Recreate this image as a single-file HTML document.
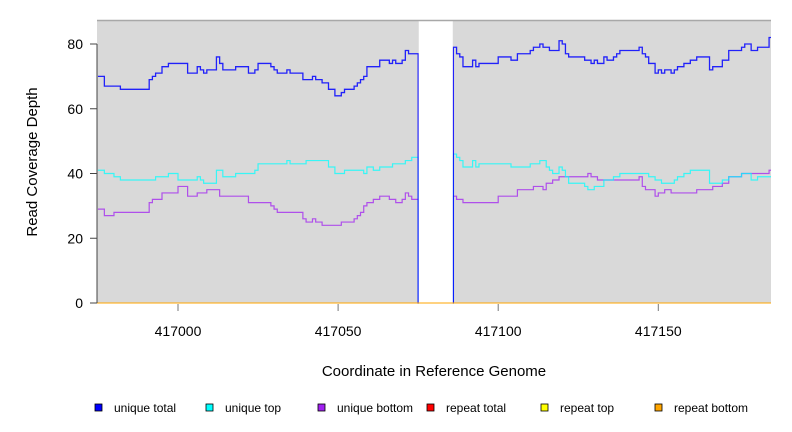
<!DOCTYPE html>
<html><head><meta charset="utf-8"><style>
body{margin:0;background:#fff;}
svg{display:block;font-family:"Liberation Sans",sans-serif;}
</style></head><body>
<svg id="c" width="792" height="432" viewBox="0 0 792 432">
<rect x="97" y="20" width="674" height="283" fill="#d9d9d9"/>
<g id="marks"></g>
<line x1="97" x2="771" y1="20.5" y2="20.5" stroke="#a8a8a8" stroke-width="1.5"/>
<g id="axes"></g>
<text x="434" y="376" text-anchor="middle" font-size="15">Coordinate in Reference Genome</text>
<text x="37" y="162" text-anchor="middle" font-size="15" transform="rotate(-90 37 162)">Read Coverage Depth</text>
<g id="legend"></g>
</svg>
<script>
const xTicks=[417000,417050,417100,417150];
const yTicks=[0,20,40,60,80];
const gapStart=417075, gapEnd=417086;
const blueX=[416975,416977,416982,416991,416992,416993,416995,416997,417003,417006,417007,417008,417009,417012,417013,417014,417018,417022,417024,417025,417029,417030,417031,417034,417035,417039,417042,417043,417045,417047,417049,417051,417052,417055,417056,417057,417058,417059,417063,417066,417067,417068,417070,417071,417072,417075,417086,417087,417088,417089,417092,417093,417094,417100,417104,417106,417110,417111,417113,417114,417116,417119,417120,417121,417122,417127,417129,417130,417131,417133,417134,417136,417137,417138,417144,417145,417146,417147,417149,417150,417151,417152,417154,417155,417156,417158,417160,417162,417166,417167,417170,417172,417176,417177,417179,417181,417184.6];
const blueV=[70,67,66,69,70,71,73,74,71,73,72,71,72,76,74,72,73,71,72,74,73,72,71,72,71,69,70,69,68,66,64,65,66,67,68,69,70,73,75,74,75,74,75,78,77,0,79,77,76,73,75,73,74,76,75,77,78,79,80,79,78,81,80,77,76,75,74,75,74,76,75,76,77,78,79,77,76,74,71,72,71,72,71,72,73,74,75,76,72,73,75,78,79,80,78,79,82];
const cyanX=[416975,416977,416980,416982,416993,416997,417000,417006,417007,417008,417012,417014,417018,417024,417025,417034,417035,417040,417047,417049,417052,417058,417059,417061,417063,417067,417071,417073,417075,417086,417087,417088,417089,417092,417093,417094,417104,417110,417113,417115,417116,417117,417119,417120,417121,417122,417127,417128,417130,417133,417136,417138,417147,417149,417151,417155,417156,417158,417160,417166,417170,417172,417176,417179,417181];
const cyanV=[41,40,39,38,39,40,38,39,38,37,41,39,40,41,43,44,43,44,42,40,41,40,42,41,42,43,44,45,0,46,45,44,42,44,42,43,42,43,44,42,41,40,42,41,39,37,36,35,36,38,39,40,39,38,37,38,39,40,41,37,38,39,40,38,39];
const purpX=[416975,416977,416980,416991,416992,416995,417000,417003,417006,417009,417013,417022,417029,417030,417031,417039,417040,417042,417043,417045,417051,417055,417056,417057,417058,417059,417061,417063,417066,417068,417070,417071,417072,417073,417075,417086,417087,417089,417100,417106,417111,417114,417115,417117,417119,417128,417129,417131,417144,417145,417146,417149,417150,417152,417154,417162,417167,417170,417172,417176,417184.6];
const purpV=[29,27,28,31,32,34,36,33,34,35,33,31,30,29,28,26,25,26,25,24,25,26,27,28,30,31,32,33,32,31,32,34,33,32,0,33,32,31,33,35,36,35,37,38,39,40,39,38,39,36,35,33,34,35,34,35,36,37,39,40,41];
const zeroX=[416974.7,417185.2];
const zeroV=[0,0];
const xMin=416974.7,xMax=417185.2;
const sx=v=>97+(v-xMin)/(xMax-xMin)*674;
const sy=v=>303-v*3.2375;
const NS='http://www.w3.org/2000/svg';
const marks=document.getElementById('marks'),axes=document.getElementById('axes'),leg=document.getElementById('legend');
function mk(t,a,p){const e=document.createElementNS(NS,t);for(const k in a)e.setAttribute(k,a[k]);p.appendChild(e);return e;}
function stepPath(xs,vs){let d='';for(let i=0;i<xs.length;i++){const x=sx(xs[i]),y=sy(vs[i]);if(i===0)d+='M'+x+' '+y;else d+=' H'+x+' V'+y;}d+=' H'+sx(xMax);return d;}
let p;
p=mk('path',{d:stepPath(purpX,purpV),fill:'none',stroke:'#a020f0','stroke-width':1.2,'stroke-opacity':0.75},marks);


p=mk('path',{d:stepPath(cyanX,cyanV),fill:'none',stroke:'#00ffff','stroke-width':1.2,'stroke-opacity':0.75},marks);


p=mk('path',{d:stepPath(blueX,blueV),fill:'none',stroke:'#0000ff','stroke-width':1.3,'stroke-opacity':0.85},marks);


p=mk('rect',{x:sx(gapStart)+0.6,y:20,width:sx(gapEnd)-sx(gapStart)-1.2,height:284,fill:'#fff'},marks);


p=mk('path',{d:stepPath(zeroX,zeroV),fill:'none',stroke:'#ffa500','stroke-width':1},marks);


// axes
for(const t of yTicks){
 mk('line',{x1:90,x2:97,y1:sy(t),y2:sy(t),stroke:'#444'},axes);
 const tx=mk('text',{x:83,y:sy(t)+5,'text-anchor':'end','font-size':14},axes);tx.textContent=t;
 
 
}
mk('line',{x1:97,x2:97,y1:sy(0),y2:sy(80),stroke:'#444'},axes);
for(const t of xTicks){
 mk('line',{x1:sx(t),x2:sx(t),y1:304,y2:311,stroke:'#777'},axes);
 const tx=mk('text',{x:sx(t),y:336,'text-anchor':'middle','font-size':14},axes);tx.textContent=t;
 
 
}
const legNames=['unique total','unique top','unique bottom','repeat total','repeat top','repeat bottom'];
const legColors=['#0000ff','#00ffff','#a020f0','#ff0000','#ffff00','#ffa500'];
const legX=[95,206,318,427,541,655];
legNames.forEach((n,i)=>{
 const g=mk('g',{},leg);
 
 
 mk('rect',{x:legX[i],y:404,width:7,height:7,fill:legColors[i],stroke:'#000','stroke-width':0.8},g);
 const t=mk('text',{x:legX[i]+19,y:412,'font-size':12},g);t.textContent=n;
});
</script>
</body></html>
